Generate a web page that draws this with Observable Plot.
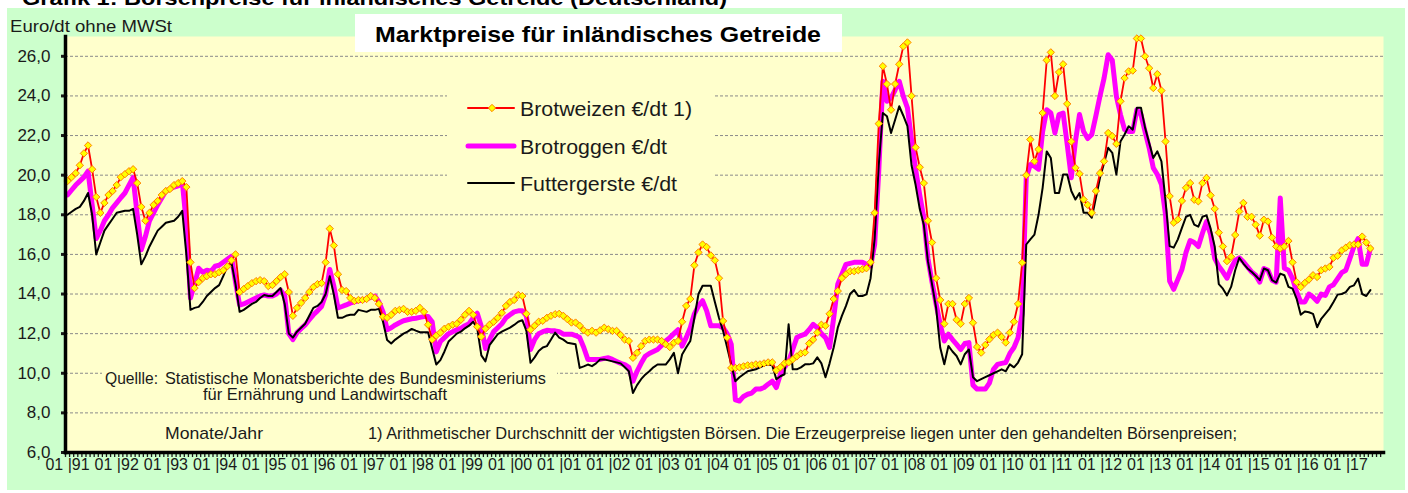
<!DOCTYPE html>
<html><head><meta charset="utf-8">
<script src="https://cdn.jsdelivr.net/npm/d3@7"></script>
<script src="https://cdn.jsdelivr.net/npm/@observablehq/plot@0.6"></script>
<style>
html,body{margin:0;padding:0;background:#fff;}
#wrap{position:relative;width:1408px;height:493px;overflow:hidden;font-family:"Liberation Sans",Arial,sans-serif;}
#bg{position:absolute;left:7px;top:8px;width:1398px;height:482px;background:#CCFFCC;}
#chart{position:absolute;left:0;top:0;}
#over{position:absolute;left:0;top:0;}
</style></head><body>
<div id="wrap"><div id="bg"></div><div id="chart"></div><svg id="over" width="1408" height="493"></svg></div>
<script>
// Monthly values, Jan 1991 .. Jul 2017 (Euro/dt)
const startYear = 1991;
const weizen = [
19.7,19.9,20.1,20.5,21.1,21.5,20.3,18.9,18.1,18.6,19.0,19.2,
19.5,19.9,20.05,20.2,20.3,19.6,18.4,17.7,18.1,18.5,18.7,19.0,
19.2,19.3,19.5,19.6,19.7,19.4,15.6,14.3,14.6,14.8,14.9,15.0,
15.0,15.1,15.2,15.4,15.7,16.0,14.1,14.25,14.4,14.55,14.65,14.7,
14.65,14.4,14.45,14.65,14.85,15.0,14.1,12.9,13.3,13.55,13.8,14.1,
14.35,14.5,14.55,15.6,17.3,16.45,15.0,14.2,14.15,13.8,13.65,13.7,
13.7,13.75,13.9,13.8,13.5,12.85,12.8,12.95,13.15,13.2,13.25,13.1,
13.1,13.15,13.3,13.1,12.45,11.7,11.9,12.05,12.25,12.35,12.45,12.5,
12.7,12.95,13.15,12.95,12.35,11.85,12.25,12.45,12.6,12.8,13.05,13.4,
13.6,13.7,13.95,13.9,13.0,12.2,12.4,12.6,12.65,12.8,12.9,12.98,
13.0,12.9,12.73,12.56,12.56,12.4,12.17,12.05,12.14,12.05,12.17,12.3,
12.22,12.14,12.14,11.93,11.7,11.63,10.78,11.03,11.37,11.63,11.7,11.7,
11.7,11.63,11.46,11.32,11.54,11.63,12.6,13.4,13.75,15.45,16.1,16.5,
16.37,15.95,15.7,14.8,12.64,11.8,10.27,10.27,10.3,10.35,10.4,10.4,
10.45,10.45,10.5,10.55,10.55,10.15,10.3,10.5,10.55,10.7,10.85,11.0,
11.05,11.5,11.7,12.05,12.45,12.4,13.0,13.75,14.15,14.8,15.0,15.15,
15.15,15.2,15.25,15.3,15.6,18.1,22.6,25.5,24.6,23.3,24.6,25.6,
26.5,26.7,24.0,21.4,20.4,19.6,17.7,16.6,14.8,13.7,12.5,13.5,
13.5,12.7,12.5,13.5,13.8,12.55,11.33,11.04,11.43,11.71,11.93,12.05,
11.83,11.55,12.05,12.6,13.5,15.58,20.0,21.8,20.7,21.3,23.14,25.8,
26.2,24.0,25.2,25.6,23.6,21.7,20.37,20.07,18.77,18.5,18.1,19.2,
20.1,20.7,22.13,21.97,21.58,23.73,24.9,25.24,25.28,26.9,26.9,26.0,
25.4,24.4,25.1,24.27,21.7,18.94,17.6,17.76,18.7,19.36,19.6,18.76,
18.68,19.6,19.86,18.98,18.3,17.1,16.4,15.66,15.88,16.98,18.17,18.6,
17.9,17.9,17.5,16.95,17.75,17.66,16.85,16.4,16.3,16.4,16.68,15.6,
14.6,14.35,14.56,14.73,14.95,14.86,15.2,15.29,15.37,15.83,15.93,16.2,
16.34,16.47,16.5,16.5,16.9,16.6,16.3
];
const roggen = [
19.0,19.25,19.5,19.7,19.9,20.2,18.5,16.8,17.2,17.7,18.0,18.35,
18.6,18.86,19.1,19.5,19.88,18.0,16.24,16.9,17.7,18.1,18.5,18.85,
19.2,19.3,19.4,19.46,19.7,17.5,13.8,14.5,15.3,15.1,15.2,15.15,
15.4,15.45,15.6,15.75,15.9,14.6,13.44,13.5,13.6,13.7,13.8,13.9,
13.95,13.9,13.9,14.0,14.2,13.9,12.0,11.7,12.05,12.25,12.44,12.7,
12.95,13.15,13.37,13.97,15.24,14.4,13.3,13.37,13.45,13.54,13.6,13.66,
13.7,13.75,13.83,13.9,13.6,13.1,12.2,12.3,12.44,12.55,12.65,12.7,
12.75,12.78,12.82,12.86,12.86,12.6,11.08,11.6,11.8,12.0,12.1,12.2,
12.27,12.4,12.5,12.8,13.03,12.36,11.25,11.7,12.1,12.3,12.5,12.8,
12.95,13.1,13.15,13.15,12.9,11.2,11.7,12.0,12.1,12.17,12.15,12.14,
12.1,11.97,11.97,11.97,11.9,11.8,11.3,10.7,10.7,10.7,10.7,10.75,
10.78,10.7,10.6,10.5,10.44,10.3,9.6,10.1,10.5,10.86,11.0,11.1,
11.2,11.4,11.63,11.8,12.0,12.2,11.37,11.8,12.3,13.0,13.4,13.66,
13.15,12.4,12.4,12.4,12.3,12.0,11.46,8.66,8.6,8.83,8.94,9.0,
9.2,9.2,9.28,9.45,9.6,9.28,9.95,10.3,10.6,11.2,11.8,11.9,
11.97,12.2,12.47,12.3,12.0,11.8,11.3,12.8,14.5,15.0,15.5,15.55,
15.6,15.6,15.6,15.5,15.4,16.5,20.2,24.74,23.73,23.9,24.3,24.74,
23.98,23.4,21.8,20.3,19.0,17.85,15.8,14.6,13.5,12.47,11.63,11.97,
11.7,11.46,11.2,11.5,11.55,9.4,9.2,9.2,9.2,9.5,10.2,10.45,
10.5,10.54,11.0,11.3,11.8,13.0,19.87,20.54,20.45,20.3,22.2,23.3,
23.14,22.13,23.06,23.14,21.55,19.87,21.7,23.06,22.2,21.85,22.05,23.0,
24.0,24.9,26.08,25.8,23.98,23.06,22.3,22.2,22.2,23.3,23.06,22.2,
21.38,20.37,20.03,19.53,18.0,14.65,14.24,14.74,15.24,16.1,16.7,16.6,
16.4,17.07,17.66,17.0,15.8,15.4,15.12,14.8,15.3,15.7,15.83,15.63,
15.37,15.12,14.95,14.6,15.29,15.2,14.7,14.6,18.85,15.3,15.2,14.78,
14.1,13.6,13.6,14.0,13.85,13.63,14.0,13.93,14.36,14.47,14.78,15.08,
15.2,15.8,16.4,16.8,15.5,15.5,16.3
];
const gerste = [
18.0,18.15,18.3,18.4,18.7,19.1,18.0,16.0,16.6,17.2,17.5,17.8,
18.1,18.15,18.2,18.2,18.3,17.0,15.5,15.9,16.4,16.8,17.2,17.4,
17.6,17.65,17.7,17.9,18.2,16.0,13.2,13.3,13.35,13.6,13.9,14.1,
14.3,14.45,14.9,15.4,15.6,14.5,13.1,13.2,13.35,13.5,13.6,13.8,
13.95,13.9,13.9,14.1,14.3,13.5,12.0,11.8,12.1,12.3,12.5,12.9,
13.3,13.4,13.6,14.0,14.9,13.97,12.8,12.8,12.9,12.95,12.95,13.2,
13.15,13.1,13.2,13.2,13.25,12.6,11.68,11.5,11.7,11.85,12.0,12.1,
12.24,12.15,12.07,12.07,12.07,11.25,10.44,10.66,11.1,11.6,11.8,12.0,
12.1,12.27,12.4,12.6,12.27,10.9,10.6,11.42,11.7,11.97,12.1,12.2,
12.3,12.44,12.6,12.68,12.14,10.53,10.8,11.12,11.3,11.37,11.7,12.05,
11.8,11.7,11.54,11.5,11.46,10.27,10.35,10.44,10.36,10.5,10.7,10.7,
10.65,10.6,10.55,10.5,10.3,10.1,9.0,9.4,9.7,9.93,10.1,10.3,
10.44,10.44,10.44,10.7,11.03,10.0,10.95,11.3,11.63,12.8,14.0,14.42,
14.42,14.42,13.6,12.8,12.14,11.3,10.44,9.6,9.8,9.95,10.1,10.15,
10.2,10.3,10.4,10.45,10.4,9.7,9.85,9.95,12.47,10.2,10.2,10.3,
10.45,10.45,10.5,10.8,10.5,9.8,10.5,11.3,12.3,12.9,13.4,14.0,
14.2,13.9,13.9,13.98,14.8,16.8,20.5,23.14,22.97,22.13,22.8,23.48,
23.0,22.47,20.5,19.5,18.3,17.5,15.66,14.5,13.3,11.3,10.45,11.38,
11.1,10.87,10.45,10.96,11.2,9.8,9.6,9.7,9.8,9.9,10.0,10.1,
10.2,10.1,10.45,10.3,10.54,10.96,16.5,16.76,17.0,18.0,19.36,21.2,
20.87,19.1,19.1,20.03,20.03,19.2,18.77,19.1,18.1,18.1,17.85,18.86,
19.87,20.62,21.38,21.13,20.03,21.7,22.05,22.47,22.3,23.4,23.4,22.4,
21.63,20.87,21.2,20.7,18.7,16.42,16.34,16.76,17.34,17.9,18.0,17.5,
17.4,17.9,17.97,17.3,16.4,14.5,14.27,13.93,14.36,15.2,15.83,15.54,
15.29,15.12,14.92,14.7,15.29,15.2,14.7,14.58,15.03,14.95,14.36,14.27,
13.76,12.95,13.12,13.08,13.0,12.32,12.75,13.0,13.25,13.6,13.97,14.0,
14.1,14.36,14.44,14.78,14.0,13.9,14.2
];
const seriesNames = ["Brotweizen €/dt 1)", "Brotroggen €/dt", "Futtergerste €/dt"];
const yTicks = [6, 8, 10, 12, 14, 16, 18, 20, 22, 24, 26];
const gridValues = [8, 10, 12, 14, 16, 18, 20, 22, 24, 26];
const yearLabels = ["91","92","93","94","95","96","97","98","99","00","01","02","03","04","05","06","07","08","09","10","11","12","13","14","15","16","17"];
const nCategories = 322;

const rows = weizen.map((w, i) => ({m: i, w, r: roggen[i], g: gerste[i]}));
const labelMonths = yearLabels.map((_, i) => i * 12);
const boundaries = d3.range(nCategories).map(i => i - 0.5);
const FONT = "'Liberation Sans', Arial, sans-serif";

const chart = Plot.plot({
  width: 1408, height: 493,
  marginLeft: 65, marginRight: 25, marginTop: 36, marginBottom: 41,
  style: {background: "transparent", fontFamily: FONT, color: "#1a1a1a"},
  x: {domain: [-0.5, 321.2]},
  y: {domain: [6, 27]},
  marks: [
    Plot.frame({fill: "#FFFFCC", stroke: null}),
    Plot.ruleY(gridValues, {stroke: "#8a8a8a", strokeDasharray: "3,2", strokeWidth: 1}),
    Plot.line(rows, {x: "m", y: "r", stroke: "#FF00FF", strokeWidth: 5, strokeLinejoin: "round"}),
    Plot.line(rows, {x: "m", y: "g", stroke: "#000000", strokeWidth: 2, strokeLinejoin: "round"}),
    Plot.line(rows, {x: "m", y: "w", stroke: "#FF0000", strokeWidth: 1.8, strokeLinejoin: "round"}),
    Plot.dot(rows, {x: "m", y: "w", symbol: "diamond2", r: 3.3, fill: "#FFFF00", stroke: "#FF7F00", strokeWidth: 1}),
    Plot.axisY({ticks: yTicks, tickFormat: d => d.toFixed(1).replace(".", ","), tickSize: 4, tickPadding: 11, strokeWidth: 3, fontSize: 17, label: null, fill: "#1a1a1a"}),
    Plot.axisX({ticks: boundaries, tickSize: 5, tickFormat: () => "", strokeWidth: 1.3, label: null}),
    Plot.axisX({ticks: labelMonths, tickSize: 0, tickPadding: 6, tickFormat: (d, i) => "01 |" + yearLabels[d / 12], fontSize: 16, label: null, fill: "#1a1a1a"}),
    Plot.frame({anchor: "left", strokeWidth: 3.5, stroke: "#000"}),
    Plot.frame({anchor: "bottom", strokeWidth: 3.5, stroke: "#000"})
  ]
});
document.getElementById("chart").appendChild(chart);

// Annotation overlay: titles, legend, notes
const over = d3.select("#over").style("font-family", FONT);
function txt(s, x, y, size, opts = {}) {
  const t = over.append("text").attr("x", x).attr("y", y).attr("font-size", size)
    .attr("fill", opts.fill || "#1a1a1a").text(s);
  if (opts.bold) t.attr("font-weight", "bold");
  if (opts.anchor) t.attr("text-anchor", opts.anchor);
  if (opts.len) t.attr("textLength", opts.len).attr("lengthAdjust", "spacingAndGlyphs");
  return t;
}
txt("Grafik 1: Börsenpreise für inländisches Getreide (Deutschland)", 22, 4.5, 21, {bold: true, len: 705, fill: "#000"});
txt("Euro/dt ohne MWSt", 10, 32, 16.5, {len: 162});

over.append("rect").attr("x", 355).attr("y", 14).attr("width", 487).attr("height", 38).attr("fill", "#fff");
txt("Marktpreise für inländisches Getreide", 375, 42, 22, {bold: true, len: 446, fill: "#000"});

// legend
over.append("rect").attr("x", 447).attr("y", 82).attr("width", 266).attr("height", 115).attr("fill", "#FFFFCC");
const legendStyles = [
  {stroke: "#FF0000", width: 2, marker: true},
  {stroke: "#FF00FF", width: 5},
  {stroke: "#000000", width: 2}
];
const legendY = [108, 146, 183];
const legendLen = [172, 147, 157];
seriesNames.forEach((name, i) => {
  const st = legendStyles[i], y = legendY[i];
  over.append("line").attr("x1", 468).attr("x2", 514).attr("y1", y).attr("y2", y)
    .attr("stroke", st.stroke).attr("stroke-width", st.width).attr("stroke-linecap", "round");
  if (st.marker) {
    over.append("path").attr("d", d3.symbol(d3.symbolDiamond2, Math.PI * 3.3 * 3.3)())
      .attr("transform", `translate(492,${y})`).attr("fill", "#FFFF00").attr("stroke", "#FF7F00");
  }
  txt(name, 520, y + 8, 21, {len: legendLen[i]});
});

// source note
over.append("rect").attr("x", 102).attr("y", 367).attr("width", 455).attr("height", 38).attr("fill", "#FFFFCC");
txt("Quellle:", 105, 384, 16.5, {len: 53});
txt("Statistische Monatsberichte des Bundesministeriums", 165, 384, 16.5, {len: 381});
txt("für Ernährung und Landwirtschaft", 203, 400, 16.5, {len: 244});
txt("Monate/Jahr", 165, 439, 17, {len: 98});
txt("1) Arithmetischer Durchschnitt der wichtigsten Börsen. Die Erzeugerpreise liegen unter den gehandelten Börsenpreisen;", 368, 439, 16, {len: 869});
</script>
</body></html>
